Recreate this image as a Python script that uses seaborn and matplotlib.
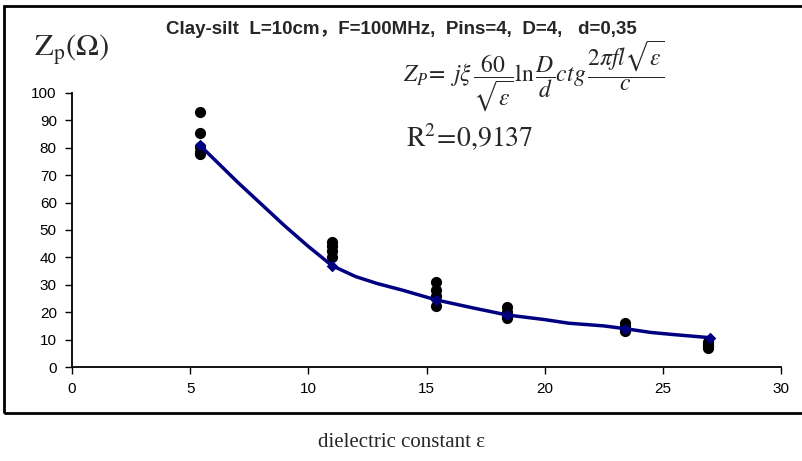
import numpy as np
import matplotlib
matplotlib.use("Agg")
import matplotlib.pyplot as plt
import seaborn as sns
import pandas as pd
from matplotlib.patches import Rectangle

# measured impedance (black dots)
meas_eps = [5.4, 5.4, 5.4, 5.4, 5.4,
            11.0, 11.0, 11.0, 11.0,
            15.4, 15.4, 15.4, 15.4,
            18.4, 18.4, 18.4, 18.4,
            23.4, 23.4, 23.4, 23.4,
            26.9, 26.9, 26.9, 26.9]
meas_z = [93.2, 85.5, 80.2, 78.5, 77.6,
          45.5, 44.0, 42.5, 40.0,
          31.0, 28.0, 26.0, 22.3,
          22.0, 20.0, 18.5, 17.8,
          16.0, 15.0, 14.0, 13.0,
          9.3, 8.5, 7.6, 6.8]

# theoretical curve (blue line) read along its path
curve_eps = [5.4, 7.0, 9.0, 10.0, 11.0, 12.0, 12.9, 14.0, 15.4, 17.0, 18.4,
             20.0, 21.0, 22.5, 23.4, 24.5, 25.5, 27.0]
curve_z = [81.0, 67.5, 51.5, 44.0, 37.0, 33.0, 30.5, 28.0, 24.5, 21.5, 19.0,
           17.3, 16.0, 15.0, 14.0, 12.6, 11.8, 10.7]

# diamond markers on the curve
fit_eps = [5.4, 11.0, 15.4, 18.4, 23.4, 27.0]
fit_z = [81.0, 37.0, 24.5, 19.0, 14.0, 10.7]

x_ticks = [0, 5, 10, 15, 20, 25, 30]
y_ticks = [0, 10, 20, 30, 40, 50, 60, 70, 80, 90, 100]

sns.set_style("white")
plt.rcParams['font.family'] = ['Liberation Sans', 'Noto Sans CJK SC', 'DejaVu Sans']
plt.rcParams['mathtext.fontset'] = 'stix'

fig = plt.figure(figsize=(8.03, 4.61), dpi=100)
ax = fig.add_axes([0.0897, 0.2039, 0.8829, 0.5944])

df_meas = pd.DataFrame({"eps": meas_eps, "z": meas_z})
df_curve = pd.DataFrame({"eps": curve_eps, "z": curve_z})
df_fit = pd.DataFrame({"eps": fit_eps, "z": fit_z})

sns.scatterplot(data=df_meas, x="eps", y="z", color="black", s=65,
                edgecolor="black", linewidth=0, ax=ax, zorder=3)
sns.lineplot(data=df_curve, x="eps", y="z", color="#000080", linewidth=2.5,
             sort=True, ax=ax, zorder=4)
sns.scatterplot(data=df_fit, x="eps", y="z", color="#000080", marker="D",
                s=35, linewidth=0, ax=ax, zorder=5)

ax.set_xlim(0, 30)
ax.set_ylim(0, 100)
ax.set_xticks(x_ticks)
ax.set_yticks(y_ticks)
ax.set_xlabel("")
ax.set_ylabel("")
ax.tick_params(axis="both", direction="out", length=5, width=1, labelsize=11,
               colors="black", bottom=True, left=True, pad=6)
for s in ["top", "right"]:
    ax.spines[s].set_visible(False)
for s in ["left", "bottom"]:
    ax.spines[s].set_color("black")
    ax.spines[s].set_linewidth(1.3)

# outer frame
fig.patches.append(Rectangle((0.005, 0.104), 1.2, 0.883, transform=fig.transFigure,
                             fill=False, edgecolor="black", linewidth=2))

fig.text(0.50, 0.935, "Clay-silt  L=10cm\uff0cF=100MHz,  Pins=4,  D=4,   d=0,35",
         ha="center", va="center", fontsize=13.5, fontweight="bold")
fig.text(0.042, 0.892, r"$\mathrm{Z_p(\Omega)}$", ha="left", va="center", fontsize=22)
fig.text(0.502, 0.835,
         r"$Z_P\!=\ j\xi\,\dfrac{60}{\sqrt{\varepsilon}}\ln\dfrac{D}{d}ctg\,\dfrac{2\pi f l\sqrt{\varepsilon}}{c}$",
         ha="left", va="center", fontsize=17)
fig.text(0.506, 0.703, r"$\mathrm{R^2\!=\!0{,}9137}$", ha="left", va="center", fontsize=20)
fig.text(0.50, 0.04, "dielectric constant \u03b5", ha="center", va="center",
         fontsize=15, family=["Liberation Serif", "DejaVu Serif"])

fig.savefig("out.png", dpi=100)
